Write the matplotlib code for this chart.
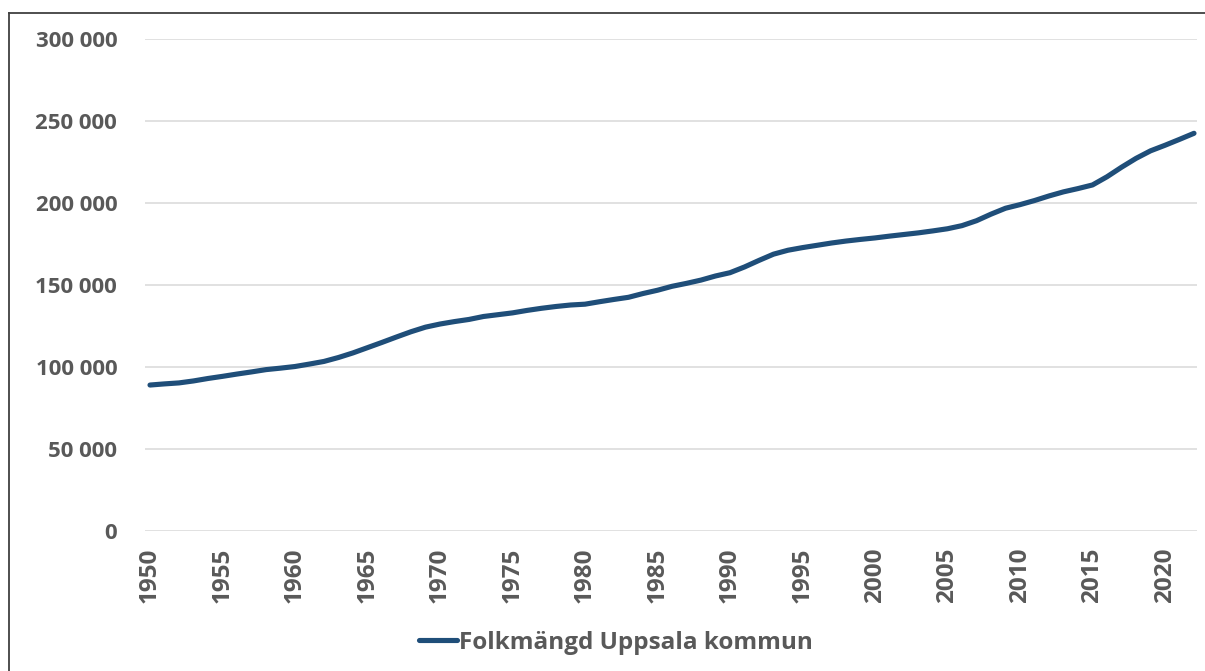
import numpy as np
import matplotlib
matplotlib.use('Agg')
import matplotlib.pyplot as plt
from matplotlib.lines import Line2D
from matplotlib.ticker import FuncFormatter

# Folkmängd Uppsala kommun
years = list(range(1950, 2023))
population = [
    89000, 89700, 90300, 91500, 93000, 94300, 95700, 97000, 98400, 99300,
    100300, 101800, 103400, 105800, 108600, 111800, 115000, 118300, 121500, 124300,
    126200, 127700, 129000, 130800, 131900, 133000, 134500, 135800, 136900, 137800,
    138300, 139800, 141200, 142500, 144800, 146800, 149200, 151000, 153000, 155500,
    157500, 161000, 165000, 168800, 171200, 172800, 174200, 175600, 176800, 177800,
    178700, 179800, 180800, 181800, 183000, 184300, 186200, 189200, 193200, 196800,
    199000, 201500, 204300, 206800, 208800, 211000, 216000, 221800, 227200, 231800,
    235200, 238800, 242500,
]
xticks = list(range(1950, 2021, 5))
yticks = [0, 50000, 100000, 150000, 200000, 250000, 300000]
series_label = 'Folkmängd Uppsala kommun'

text_gray = '#595959'
line_blue = '#1F4E79'

plt.rcParams['font.family'] = ['Open Sans', 'DejaVu Sans']

W, H = 1205, 671
fig = plt.figure(figsize=(W / 100, H / 100), dpi=100)
ax = fig.add_axes([145 / W, 1 - 531 / H, (1197 - 145) / W, (531 - 39) / H])

ax.plot(years, population, color=line_blue, linewidth=3.7,
        solid_capstyle='round', solid_joinstyle='round', label=series_label)

ax.set_xlim(1950 - 5 / 14.5, 1950 + (1197 - 150) / 14.5)
ax.set_ylim(0, 300000)
ax.set_xticks(xticks)
ax.set_yticks(yticks)
ax.yaxis.set_major_formatter(FuncFormatter(lambda v, p: f'{int(v):,}'.replace(',', ' ')))

ax.grid(True, axis='y', color='#D9D9D9', linewidth=1.1)
ax.set_axisbelow(True)
for s in ax.spines.values():
    s.set_visible(False)

ax.tick_params(axis='both', length=0, colors=text_gray)
ax.tick_params(axis='y', pad=20, labelsize=16)
ax.tick_params(axis='x', pad=12, labelsize=17.5)
for lbl in ax.get_xticklabels():
    lbl.set_rotation(90)
    lbl.set_fontweight('bold')
for lbl in ax.get_yticklabels():
    lbl.set_fontweight('bold')

leg = fig.legend(loc='center', bbox_to_anchor=(616 / W, 1 - 643 / H),
                 frameon=False, handlelength=1.55, handletextpad=0.1,
                 prop={'weight': 'bold', 'size': 17.5})
for t in leg.get_texts():
    t.set_color(text_gray)

# chart border (only top and left edges visible in the crop)
fig.add_artist(Line2D([9 / W, 9 / W], [0, 1 - 13 / H], color='#404040', linewidth=1.3))
fig.add_artist(Line2D([9 / W, 1], [1 - 13 / H, 1 - 13 / H], color='#404040', linewidth=1.3))

fig.savefig('out.png', dpi=100)
